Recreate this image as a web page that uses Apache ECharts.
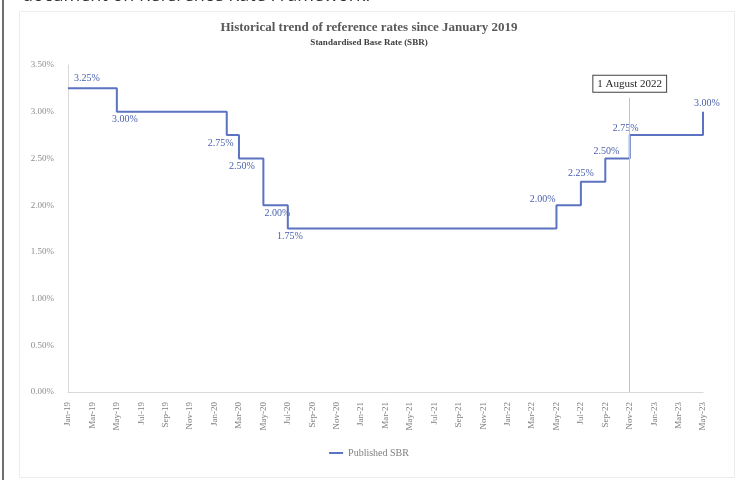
<!DOCTYPE html>
<html>
<head>
<meta charset="utf-8">
<script src="https://cdn.jsdelivr.net/npm/echarts@6/dist/echarts.min.js"></script>
<style>
    html, body { margin: 0; padding: 0; background: #fff; }
    #chart { width: 738px; height: 480px; }
</style>
</head>
<body>
<div id="chart"></div>
<script>
// monthly categories, Jan-19 .. May-23
const months = [
    'Jan-19', 'Feb-19', 'Mar-19', 'Apr-19', 'May-19', 'Jun-19', 'Jul-19', 'Aug-19', 'Sep-19', 'Oct-19', 'Nov-19', 'Dec-19',
    'Jan-20', 'Feb-20', 'Mar-20', 'Apr-20', 'May-20', 'Jun-20', 'Jul-20', 'Aug-20', 'Sep-20', 'Oct-20', 'Nov-20', 'Dec-20',
    'Jan-21', 'Feb-21', 'Mar-21', 'Apr-21', 'May-21', 'Jun-21', 'Jul-21', 'Aug-21', 'Sep-21', 'Oct-21', 'Nov-21', 'Dec-21',
    'Jan-22', 'Feb-22', 'Mar-22', 'Apr-22', 'May-22', 'Jun-22', 'Jul-22', 'Aug-22', 'Sep-22', 'Oct-22', 'Nov-22', 'Dec-22',
    'Jan-23', 'Feb-23', 'Mar-23', 'Apr-23', 'May-23'
];

// published SBR (%), one value per month
const sbr = [
    3.25, 3.25, 3.25, 3.25, 3.00, 3.00, 3.00, 3.00, 3.00, 3.00, 3.00, 3.00,
    3.00, 2.75, 2.50, 2.50, 2.00, 2.00, 1.75, 1.75, 1.75, 1.75, 1.75, 1.75,
    1.75, 1.75, 1.75, 1.75, 1.75, 1.75, 1.75, 1.75, 1.75, 1.75, 1.75, 1.75,
    1.75, 1.75, 1.75, 1.75, 2.00, 2.00, 2.25, 2.25, 2.50, 2.50, 2.75, 2.75,
    2.75, 2.75, 2.75, 2.75, 3.00
];

// label placement for each new rate: [position, offset]
const labelPos = {
    0: ['right', [6, -10]],
    4: ['bottom', [8, 0]],
    13: ['bottom', [-6, 0]],
    14: ['bottom', [3, 0]],
    16: ['bottom', [14, 0]],
    18: ['bottom', [2, 0]],
    40: ['left', [2, -6]],
    42: ['top', [0, 0]],
    44: ['top', [1, 1]],
    46: ['top', [-4, 1]],
    52: ['top', [4, 0]]
};

const markerMonth = 'Nov-22';
const markerText = '1 August 2022';

const serif = '"Liberation Serif", "DejaVu Serif", serif';
const lineColor = '#5b73c0';
const markerColor = '#f0b0b0';

const seriesData = sbr.map((v, i) => {
    const lp = labelPos[i];
    if (!lp) return v;
    return {
        value: v,
        label: {
            show: true,
            position: lp[0],
            distance: lp[0] === 'right' ? 0 : 3,
            offset: lp[1]
        }
    };
});

const chart = echarts.init(document.getElementById('chart'));

chart.setOption({
    backgroundColor: '#fff',
    animation: false,
    graphic: [
        {
            type: 'rect',
            left: 2, top: 0,
            shape: { width: 2, height: 480 },
            style: { fill: '#6e6e6e' }
        },
        {
            type: 'rect',
            left: 17, top: 9,
            shape: { width: 715, height: 466 },
            style: { fill: 'none', stroke: '#ececec', lineWidth: 1 }
        },
        {
            type: 'text',
            x: 22, y: 5,
            style: {
                text: 'document on Reference Rate Framework.',
                font: '18px "Open Sans", sans-serif',
                fill: '#333',
                verticalAlign: 'bottom'
            }
        }
    ],
    title: {
        text: 'Historical trend of reference rates since January 2019',
        subtext: 'Standardised Base Rate (SBR)',
        left: 'center',
        top: 16,
        itemGap: 4,
        textStyle: { fontFamily: serif, fontSize: 13, fontWeight: 'bold', color: '#595959' },
        subtextStyle: { fontFamily: serif, fontSize: 9, fontWeight: 'bold', color: '#404040' }
    },
    legend: {
        bottom: 17,
        left: 'center',
        icon: 'rect',
        itemWidth: 14,
        itemHeight: 2,
        itemGap: 2,
        textStyle: { fontFamily: serif, fontSize: 10, color: '#7f7f7f' },
        data: ['Published SBR']
    },
    grid: { left: 68, right: 35, top: 65, bottom: 88 },
    xAxis: {
        type: 'category',
        data: months,
        boundaryGap: false,
        axisLine: { lineStyle: { color: '#d9d9d9' } },
        axisTick: { show: false },
        axisLabel: {
            interval: 1,
            rotate: 90,
            fontFamily: serif,
            fontSize: 9,
            color: '#7f7f7f',
            margin: 10
        }
    },
    yAxis: {
        type: 'value',
        min: 0,
        max: 3.5,
        interval: 0.5,
        axisLine: { show: true, lineStyle: { color: '#d9d9d9' } },
        axisTick: { show: false },
        splitLine: { show: false },
        axisLabel: {
            fontFamily: serif,
            fontSize: 9,
            color: '#8c8c8c',
            margin: 14,
            formatter: v => v.toFixed(2) + '%'
        }
    },
    series: [{
        name: 'Published SBR',
        type: 'line',
        step: 'end',
        data: seriesData,
        symbol: 'circle',
        symbolSize: 0,
        showSymbol: true,
        z: 3,
        lineStyle: { color: lineColor, width: 2 },
        itemStyle: { color: lineColor },
        label: {
            fontFamily: serif,
            fontSize: 10,
            color: '#4a5fae',
            formatter: p => p.value.toFixed(2) + '%'
        }
    }, {
        // marker for the 1 August 2022 change
        name: 'marker',
        type: 'line',
        data: [],
        silent: true,
        z: 1,
        markLine: {
            symbol: 'none',
            silent: true,
            animation: false,
            emphasis: { disabled: true },
            lineStyle: { color: markerColor, width: 1, type: 'solid', opacity: 1 },
            label: {
                show: true,
                position: 'end',
                formatter: markerText,
                fontFamily: serif,
                fontSize: 11,
                color: '#262626',
                backgroundColor: '#fff',
                borderColor: '#404040',
                borderWidth: 1,
                padding: [3, 4, 2, 4],
                distance: 6
            },
            data: [[
                { coord: [markerMonth, 0] },
                { coord: [markerMonth, 3.15] }
            ]]
        }
    }]
});
</script>
</body>
</html>
